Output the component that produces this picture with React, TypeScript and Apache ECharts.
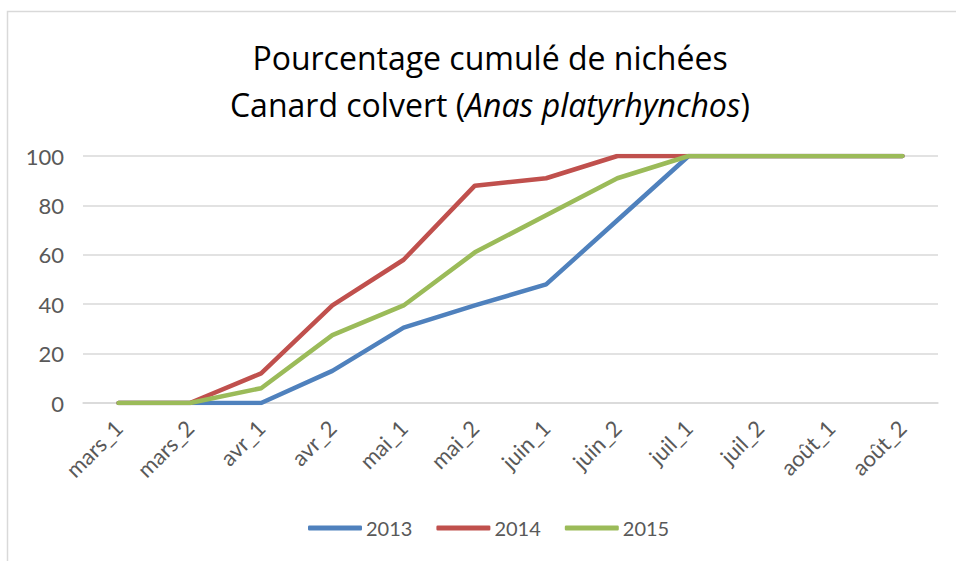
import React, { useEffect, useRef } from "react";
import * as echarts from "echarts";

const categories = ["mars_1", "mars_2", "avr_1", "avr_2", "mai_1", "mai_2", "juin_1", "juin_2", "juil_1", "juil_2", "août_1", "août_2"];
const s2013 = [0, 0, 0, 13, 30.5, 39.5, 48, 74, 100, 100, 100, 100];
const s2014 = [0, 0, 12, 39.5, 58, 88, 91, 100, 100, 100, 100, 100];
const s2015 = [0, 0, 6, 27.5, 39.5, 61, 76, 91, 100, 100, 100, 100];
const seriesNames = ["2013", "2014", "2015"];
const colors = ["#4F81BD", "#C0504D", "#9BBB59"];

const FONT = "Lato, 'Open Sans', sans-serif";
const TFONT = "'Open Sans', Lato, sans-serif";

export default function App() {
  const ref = useRef<HTMLDivElement>(null);
  useEffect(() => {
    if (!ref.current) return;
    const chart = echarts.init(ref.current, undefined, { renderer: "svg" });
    const data = [s2013, s2014, s2015];
    chart.setOption({
      animation: false,
      backgroundColor: "#ffffff",
      textStyle: { fontFamily: FONT },
      graphic: [
        {
          type: "rect",
          shape: { x: 7.5, y: 11.5, width: 970, height: 570 },
          style: { fill: "none", stroke: "#D9D9D9", lineWidth: 1.5 },
          silent: true,
        },
      ],
      title: {
        left: 485,
        textAlign: "center",
        top: 29,
        text: "Pourcentage cumulé de nichées\nCanard colvert ({i|Anas platyrhynchos})",
        textStyle: {
          fontFamily: TFONT,
          fontSize: 32,
          fontWeight: "normal",
          color: "#000000",
          lineHeight: 47,
          rich: {
            i: { fontFamily: TFONT, fontSize: 32, fontStyle: "italic", color: "#000000", lineHeight: 47 },
          },
        },
      },
      legend: {
        bottom: 18,
        left: 303,
        itemWidth: 54,
        itemHeight: 5,
        itemGap: 24,
        icon: "roundRect",
        textStyle: { fontFamily: FONT, fontSize: 20, color: "#595959", padding: [0, 0, 0, -1] },
        data: seriesNames,
      },
      grid: { left: 83, right: 18, top: 156, bottom: 158, containLabel: false },
      xAxis: {
        type: "category",
        data: categories,
        boundaryGap: true,
        axisLine: { show: true, lineStyle: { color: "#D9D9D9", width: 1.5 } },
        axisTick: { show: false },
        axisLabel: { rotate: 45, fontFamily: FONT, fontSize: 22, color: "#595959", margin: 21, interval: 0 },
      },
      yAxis: {
        type: "value",
        min: 0,
        max: 100,
        interval: 20,
        axisLine: { show: false },
        axisTick: { show: false },
        splitLine: { lineStyle: { color: "#D9D9D9", width: 1.5 } },
        axisLabel: { fontFamily: FONT, fontSize: 22, color: "#595959", margin: 19 },
      },
      series: seriesNames.map((n, i) => ({
        name: n,
        type: "line",
        data: data[i],
        symbol: "none",
        lineStyle: { color: colors[i], width: 4.5, cap: "round", join: "round" },
        itemStyle: { color: colors[i] },
        z: 2 + i,
      })),
    });
    return () => chart.dispose();
  }, []);
  return <div ref={ref} style={{ position: "fixed", left: 0, top: 0, width: 956, height: 561 }} />;
}
